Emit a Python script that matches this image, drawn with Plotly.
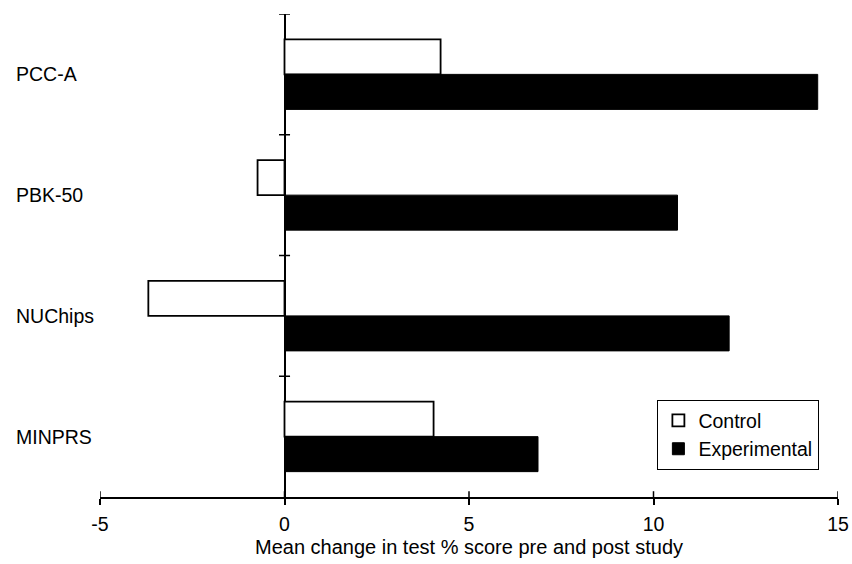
import plotly.graph_objects as go

categories = ["PCC-A", "PBK-50", "NUChips", "MINPRS"]
control = [4.23, -0.73, -3.69, 4.04]
experimental = [14.45, 10.65, 12.05, 6.87]
x_ticks = [-5, 0, 5, 10, 15]
x_tick_labels = ["-5", "0", "5", "10", "15"]
x_title = "Mean change in test % score pre and post study"

FONT = "Liberation Sans, Arial, Helvetica, sans-serif"
FS = 20

fig = go.Figure()
fig.add_trace(go.Bar(
    y=categories, x=control, orientation="h", name="Control",
    marker=dict(color="white", line=dict(color="black", width=1.8)),
))
fig.add_trace(go.Bar(
    y=categories, x=experimental, orientation="h", name="Experimental",
    marker=dict(color="black", line=dict(color="black", width=1)),
))

shapes = []
for t in x_ticks:
    shapes.append(dict(type="line", xref="x", yref="paper", x0=t, x1=t, y0=0, y1=0.012,
                       line=dict(color="black", width=1.5)))
for i in range(len(categories)):
    shapes.append(dict(type="line", xref="x", yref="y", x0=-0.15, x1=0.15, y0=i - 0.5, y1=i - 0.5,
                       line=dict(color="black", width=1.5)))

annotations = []
for c in categories:
    annotations.append(dict(text=c, xref="paper", yref="y", x=-0.1167, y=c, xanchor="left",
                            yanchor="middle", showarrow=False,
                            font=dict(family=FONT, size=19.5, color="black")))

fig.update_layout(
    width=852, height=564,
    margin=dict(l=100, r=14, t=14, b=67, autoexpand=False),
    paper_bgcolor="white", plot_bgcolor="white",
    barmode="group", bargap=0.42, bargroupgap=0,
    font=dict(family=FONT, size=FS, color="black"),
    shapes=shapes, annotations=annotations,
    legend=dict(x=0.755, y=0.2008, xanchor="left", yanchor="top",
                bordercolor="black", borderwidth=1.2, bgcolor="white",
                font=dict(family=FONT, size=19.5), tracegroupgap=0),
    xaxis=dict(range=[-5, 15], tickvals=x_ticks, ticktext=x_tick_labels,
               ticks="outside", ticklen=6, tickwidth=1.5, automargin=False,
               tickcolor="black", showline=True, linewidth=1.5, linecolor="black",
               zeroline=True, zerolinecolor="black", zerolinewidth=1.8, showgrid=False,
               tickfont=dict(size=19.5), ticklabelstandoff=3, ticklabeloverflow="allow",
               title=dict(text=x_title, font=dict(size=FS), standoff=6)),
    yaxis=dict(range=[3.5, -0.5], showticklabels=False, showgrid=False, zeroline=False,
               showline=False, ticks="", automargin=False),
)

fig.write_html("out.html", config={"displayModeBar": False},
               post_script="document.body.style.margin='0';")
